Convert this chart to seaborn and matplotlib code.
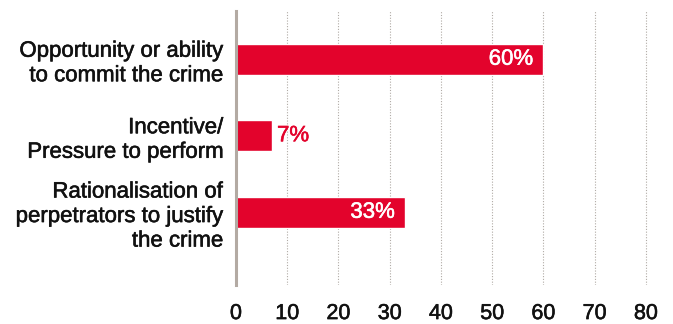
import matplotlib
matplotlib.use("Agg")
import matplotlib.pyplot as plt
import matplotlib.patheffects as pe
import seaborn as sns
import pandas as pd

# Share of fraud cases by element of the fraud triangle
factors = [
    "Opportunity or ability\nto commit the crime",
    "Incentive/\nPressure to perform",
    "Rationalisation of\nperpetrators to justify\nthe crime",
]
shares = [60, 7, 33]
value_labels = ["60%", "7%", "33%"]
x_ticks = [0, 10, 20, 30, 40, 50, 60, 70, 80]

RED = "#e3032c"
AXIS_GREY = "#b3aaa3"
GRID_GREY = "#b0aaa5"
INK = "#111111"

sns.set_theme(style="white")
plt.rcParams["font.family"] = ["Liberation Sans", "DejaVu Sans"]


def medium(color):
    # thicken the regular face slightly towards a medium weight
    return [pe.withStroke(linewidth=0.4, foreground=color)]


df = pd.DataFrame({"factor": factors, "share": shares})

fig = plt.figure(figsize=(6.73, 3.24), dpi=100)
ax = fig.add_axes([0.3507, 0.1204, 0.975 - 0.3507, 0.966 - 0.1204])

sns.barplot(data=df, x="share", y="factor", orient="h", color=RED,
            saturation=1, width=0.4, ax=ax, zorder=2)

ax.set_xlim(0, 82)
ax.set_ylim(2.95, -0.63)
ax.set_xticks(x_ticks)
ax.set_xticklabels([str(t) for t in x_ticks])
ax.set_xlabel("")
ax.set_ylabel("")

ax.xaxis.grid(True, linestyle=(0, (1, 1.5)), color=GRID_GREY, linewidth=0.8, zorder=0)
ax.yaxis.grid(False)
ax.set_axisbelow(True)

for side in ["top", "right", "bottom"]:
    ax.spines[side].set_visible(False)
ax.spines["left"].set_color(AXIS_GREY)
ax.spines["left"].set_linewidth(2.2)
ax.spines["left"].set_zorder(3)

ax.tick_params(axis="x", length=0, pad=13, labelsize=15.5, labelcolor=INK)
ax.tick_params(axis="y", length=0, pad=9, labelsize=16, labelcolor=INK)
for lab in ax.get_yticklabels():
    lab.set_linespacing(1.22)
    lab.set_path_effects(medium(INK))
for lab in ax.get_xticklabels():
    lab.set_path_effects(medium(INK))

# Value labels: inside the bar in white, or just outside in red for short bars
for i, (v, txt) in enumerate(zip(shares, value_labels)):
    if v >= 20:
        ax.text(v - 2, i, txt, ha="right", va="center", color="white",
                fontsize=16, zorder=4, path_effects=medium("white"))
    else:
        ax.text(v + 1, i, txt, ha="left", va="center", color=RED,
                fontsize=16, zorder=4, path_effects=medium(RED))

fig.savefig("out.png", dpi=100)
